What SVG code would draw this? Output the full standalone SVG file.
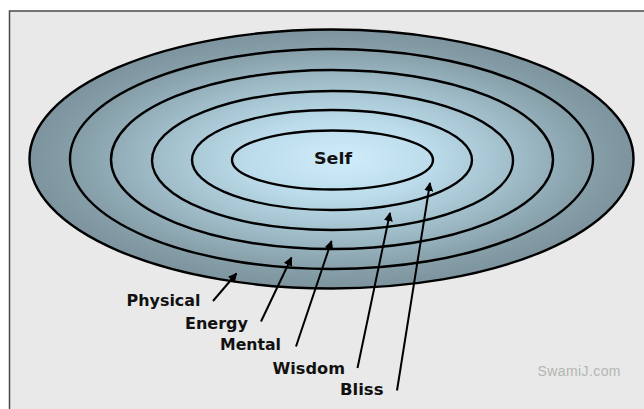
<svg xmlns="http://www.w3.org/2000/svg" width="644" height="409" viewBox="0 0 644 409">
  <defs>
    <radialGradient id="disc" cx="0.5" cy="0.5" r="0.5" fx="0.52" fy="0.5">
      <stop offset="0" stop-color="#cfecfa"/>
      <stop offset="0.3" stop-color="#bcdceb"/>
      <stop offset="0.6" stop-color="#9fbcc8"/>
      <stop offset="0.85" stop-color="#869fa9"/>
      <stop offset="1" stop-color="#7d949e"/>
    </radialGradient>
    <marker id="head" viewBox="0 0 10 10" refX="9" refY="5" markerWidth="4.5" markerHeight="4.5" orient="auto" markerUnits="strokeWidth">
      <path d="M0,0 L10,5 L0,10 Z" fill="#000"/>
    </marker>
  </defs>
  <style>
    .ring { fill: none; stroke: #000; stroke-width: 2.4; }
    .lbl { font-family: "DejaVu Sans", "Liberation Sans", sans-serif; font-weight: bold; font-size: 16px; fill: #111; }
    .arrow { stroke: #000; stroke-width: 2; fill: none; marker-end: url(#head); }
  </style>
  <rect x="0" y="0" width="644" height="409" fill="#ffffff"/>
  <rect x="9.5" y="11" width="640" height="405" fill="#e8e9e8" stroke="#4a4a4a" stroke-width="1.5"/>

  <g id="physical">
    <ellipse cx="331.5" cy="159" rx="302" ry="129.5" fill="url(#disc)" stroke="#000" stroke-width="2.4"/>
    <text class="lbl" x="126.5" y="305.5" textLength="74" lengthAdjust="spacingAndGlyphs">Physical</text>
  </g>
  <g id="energy">
    <ellipse class="ring" cx="331.5" cy="159" rx="261.5" ry="110"/>
    <text class="lbl" x="185" y="328.5" textLength="63" lengthAdjust="spacingAndGlyphs">Energy</text>
  </g>
  <g id="mental">
    <ellipse class="ring" cx="332" cy="159.5" rx="221" ry="89.5"/>
    <text class="lbl" x="220" y="350" textLength="61" lengthAdjust="spacingAndGlyphs">Mental</text>
  </g>
  <g id="wisdom">
    <ellipse class="ring" cx="332.5" cy="160.5" rx="180.5" ry="69.5"/>
    <text class="lbl" x="272.5" y="374" textLength="72.5" lengthAdjust="spacingAndGlyphs">Wisdom</text>
  </g>
  <g id="bliss">
    <ellipse class="ring" cx="332" cy="160" rx="140" ry="50"/>
    <text class="lbl" x="340" y="395" textLength="43.5" lengthAdjust="spacingAndGlyphs">Bliss</text>
  </g>
  <g id="self">
    <ellipse class="ring" cx="332.5" cy="160" rx="100.5" ry="29.5"/>
    <text class="lbl" x="314" y="164" textLength="38" lengthAdjust="spacingAndGlyphs">Self</text>
  </g>

  <g id="connectors">
    <line class="arrow" x1="213" y1="301" x2="236.5" y2="273.5"/>
    <line class="arrow" x1="261" y1="321.5" x2="291.5" y2="257.5"/>
    <line class="arrow" x1="296" y1="346.5" x2="331.5" y2="241"/>
    <line class="arrow" x1="357.5" y1="368" x2="390" y2="213"/>
    <line class="arrow" x1="397" y1="390.5" x2="430" y2="183"/>
  </g>

  <text x="537.5" y="376" font-family="Liberation Sans, Arial, sans-serif" font-size="14" fill="#b3b6b3" textLength="83" lengthAdjust="spacing">SwamiJ.com</text>
</svg>
